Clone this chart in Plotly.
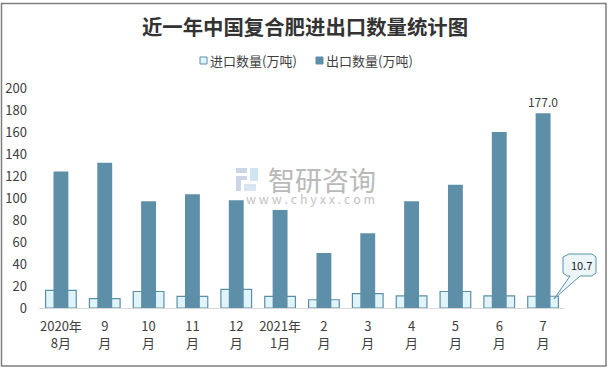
import plotly.graph_objects as go

categories = ["2020年<br>8月", "9<br>月", "10<br>月", "11<br>月", "12<br>月", "2021年<br>1月",
              "2<br>月", "3<br>月", "4<br>月", "5<br>月", "6<br>月", "7<br>月"]
cat_ids = ["2020-08", "2020-09", "2020-10", "2020-11", "2020-12", "2021-01",
           "2021-02", "2021-03", "2021-04", "2021-05", "2021-06", "2021-07"]
imports = [16, 8.5, 15, 10.5, 17, 10.5, 7.5, 13, 11, 15, 11, 10.7]
exports = [124, 132, 97, 103.5, 98, 89, 50, 68, 97, 112, 160, 177.0]
y_ticks = list(range(0, 201, 20))
export_labels = [""] * 11 + ["177.0"]
series_names = ["进口数量(万吨)", "出口数量(万吨)"]

W, H = 611, 371
L, R, T, B = 39, 565, 88, 308
FONT = "Noto Sans CJK SC"
TXT = "#404040"
C_IN, C_OUT, C_EDGE = "#e0f4fa", "#5e8fa8", "#5b8fa8"


def px(x):
    return (x - L) / (R - L)


def py(y):
    return (B - y) / (B - T)


def rect(x0, y0, x1, y1, fill=None, line=None, lw=1):
    return dict(type="rect", xref="paper", yref="paper", layer="below",
                x0=px(x0), x1=px(x1), y0=py(y0), y1=py(y1),
                fillcolor=fill or "rgba(0,0,0,0)",
                line=dict(color=line or "rgba(0,0,0,0)", width=lw if line else 0))


def path(points, fill, line=None, lw=1):
    d = "M " + " L ".join(f"{px(a):.5f},{py(b):.5f}" for a, b in points) + " Z"
    return dict(type="path", xref="paper", yref="paper", layer="above", path=d,
                fillcolor=fill, line=dict(color=line or "rgba(0,0,0,0)", width=lw if line else 0))


fig = go.Figure()
fig.add_bar(name=series_names[0], x=cat_ids, y=imports, width=0.7,
            marker=dict(color=C_IN, line=dict(color=C_EDGE, width=1.2)))
fig.add_bar(name=series_names[1], x=cat_ids, y=exports, width=0.34,
            marker=dict(color=C_OUT, line=dict(width=0)),
            text=export_labels, textposition="outside", cliponaxis=False,
            constraintext="none",
            textfont=dict(family=FONT, size=12, color=TXT))

shapes = [
    rect(1.5, 3.5, 606, 366, line="#7f7f7f", lw=1.5),
    # legend keys
    rect(200, 57, 207, 64, fill=C_IN, line=C_EDGE, lw=1),
    rect(316, 57, 323, 64, fill=C_OUT, line=C_OUT, lw=1),
    # watermark logo
    rect(236, 168, 247, 173, fill="#cdd6e6"),
    rect(236, 176, 247, 180, fill="#cdd6e6"),
    rect(236, 180, 241, 191, fill="#cdd6e6"),
    rect(244, 184, 256, 191, fill="#d7e6f2"),
    rect(250, 168, 258, 181, fill="#cfe5f3"),
    # callout
    path([(569, 254), (592, 254), (596, 257), (596, 273), (592, 276), (580, 276),
          (554, 299), (570, 276), (567, 276), (563, 273), (563, 257)],
         "#ecf6f8", C_OUT, 1),
]

annotations = [
    dict(text="智研咨询", x=px(322), y=py(179), font=dict(family=FONT, size=27, color="#b9b9b9")),
    dict(text="w w w . c h y x x . c o m", x=px(310), y=py(198),
         font=dict(family=FONT, size=12.5, color="#c4c4c4")),
    dict(text="10.7", x=px(581), y=py(265), font=dict(family=FONT, size=11, color="#222222")),
    dict(text=series_names[0], x=px(253.5), y=py(60), font=dict(family=FONT, size=13, color=TXT)),
    dict(text=series_names[1], x=px(369.5), y=py(60), font=dict(family=FONT, size=13, color=TXT)),
]
for a in annotations:
    a.update(xref="paper", yref="paper", showarrow=False, xanchor="center", yanchor="middle")

fig.update_layout(
    width=W, height=H, autosize=False,
    margin=dict(l=L, r=W - R, t=T, b=H - B, pad=0),
    paper_bgcolor="white", plot_bgcolor="rgba(0,0,0,0)",
    barmode="overlay", showlegend=False,
    title=dict(text="<b>近一年中国复合肥进出口数量统计图</b>", x=305 / W, xanchor="center",
               y=1 - 28 / H, yanchor="middle", automargin=False,
               font=dict(family=FONT, size=20.4, color="#333333")),
    xaxis=dict(type="category", tickmode="array", tickvals=cat_ids, ticktext=categories,
               range=[-0.5, 11.5], showgrid=False, ticks="", showline=True, automargin=False,
               linecolor="#d9d9d9", linewidth=1, zeroline=False, tickangle=0,
               tickfont=dict(family=FONT, size=13, color=TXT), ticklabelstandoff=6),
    yaxis=dict(range=[0, 200], tickmode="array", tickvals=y_ticks, showgrid=False, ticks="",
               showline=False, zeroline=False, ticklabelstandoff=11, automargin=False,
               tickfont=dict(family=FONT, size=13, color=TXT)),
    shapes=shapes, annotations=annotations,
)

fig.write_html("out.html", config={"displayModeBar": False},
               post_script="document.body.style.margin='0';document.documentElement.style.overflow='hidden';")
